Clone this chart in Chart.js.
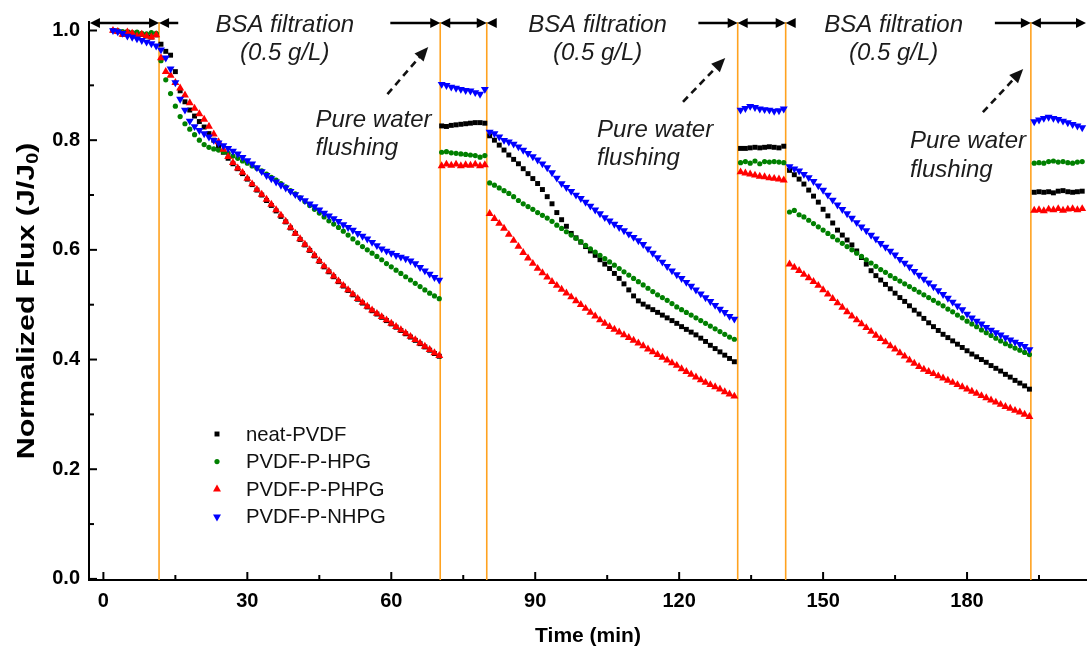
<!DOCTYPE html>
<html>
<head>
<meta charset="utf-8">
<title>Normalized flux during BSA filtration cycles</title>
<script src="https://cdn.jsdelivr.net/npm/chart.js@4.4.1/dist/chart.umd.min.js"></script>
<style>
  html, body { margin: 0; padding: 0; background: #ffffff; }
  #wrap { width: 1087px; height: 654px; }
</style>
</head>
<body>
<div id="wrap"><canvas id="flux" width="1087" height="654"></canvas></div>
<script>
// Sampling times (min): initial water, BSA 1, water 1, BSA 2, water 2, BSA 3, water 3
const timeMin = [
  2,3,4,5,6,7,8,9,10,11,
  12,13,14,15,16,17,18,19,20,21,22,23,24,25,26,27,28,29,30,31,32,33,34,35,36,37,38,39,40,41,
  42,43,44,45,46,47,48,49,50,51,52,53,54,55,56,57,58,59,60,61,62,63,64,65,66,67,68,69,70,
  70.5,71.5,72.5,73.5,74.5,75.5,76.5,77.5,78.5,79.5,
  80.5,81.5,82.5,83.5,84.5,85.5,86.5,87.5,88.5,89.5,90.5,91.5,92.5,93.5,94.5,95.5,96.5,97.5,98.5,99.5,
  100.5,101.5,102.5,103.5,104.5,105.5,106.5,107.5,108.5,109.5,110.5,111.5,112.5,113.5,114.5,115.5,116.5,117.5,118.5,119.5,
  120.5,121.5,122.5,123.5,124.5,125.5,126.5,127.5,128.5,129.5,130.5,131.5,
  132.8,133.8,134.8,135.8,136.8,137.8,138.8,139.8,140.8,141.8,
  143,144,145,146,147,148,149,150,151,152,153,154,155,156,157,158,159,160,161,162,
  163,164,165,166,167,168,169,170,171,172,173,174,175,176,177,178,179,180,181,182,
  183,184,185,186,187,188,189,190,191,192,193,
  194,195,196,197,198,199,200,201,202,203,204
];

const neatPVDF = [
  1.000,0.998,0.993,0.997,0.995,0.990,0.993,0.990,0.988,0.992,
  0.975,0.962,0.955,0.925,0.890,0.870,0.855,0.844,0.834,0.824,
  0.812,0.800,0.789,0.778,0.767,0.757,0.748,0.739,0.729,0.719,
  0.709,0.700,0.690,0.681,0.671,0.661,0.651,0.640,0.630,0.619,
  0.609,0.599,0.589,0.579,0.569,0.560,0.551,0.542,0.534,0.526,
  0.518,0.510,0.503,0.496,0.489,0.483,0.477,0.471,0.465,0.459,
  0.453,0.447,0.441,0.435,0.429,0.423,0.417,0.411,0.406,
  0.826,0.825,0.827,0.828,0.829,0.830,0.831,0.832,0.832,0.831,
  0.808,0.800,0.791,0.782,0.773,0.765,0.757,0.748,0.739,0.730,
  0.721,0.710,0.697,0.684,0.668,0.655,0.643,0.630,0.622,0.614,
  0.606,0.598,0.590,0.582,0.574,0.566,0.557,0.548,0.538,0.527,
  0.516,0.507,0.501,0.496,0.491,0.486,0.481,0.476,0.471,0.466,
  0.460,0.455,0.450,0.445,0.439,0.433,0.426,0.420,0.414,0.408,
  0.402,0.396,
  0.785,0.785,0.786,0.787,0.786,0.787,0.788,0.787,0.786,0.789,
  0.745,0.737,0.729,0.720,0.709,0.698,0.687,0.674,0.662,0.649,
  0.636,0.627,0.618,0.609,0.598,0.586,0.574,0.562,0.553,0.545,
  0.537,0.529,0.521,0.513,0.506,0.498,0.490,0.483,0.475,0.467,
  0.460,0.453,0.446,0.440,0.434,0.428,0.422,0.416,0.410,0.405,
  0.400,0.395,0.389,0.384,0.379,0.373,0.368,0.362,0.357,0.352,
  0.346,
  0.705,0.706,0.705,0.706,0.704,0.707,0.708,0.706,0.705,0.706,0.707
];

const pvdfPHPG = [
  1.000,1.000,0.998,0.997,0.996,0.997,0.995,0.994,0.996,0.995,
  0.945,0.910,0.885,0.862,0.843,0.830,0.820,0.810,0.800,0.792,
  0.787,0.784,0.782,0.779,0.776,0.771,0.767,0.762,0.758,0.753,
  0.749,0.744,0.738,0.732,0.727,0.721,0.715,0.708,0.702,0.695,
  0.688,0.681,0.674,0.667,0.660,0.653,0.647,0.641,0.634,0.627,
  0.620,0.613,0.606,0.600,0.594,0.588,0.582,0.575,0.569,0.563,
  0.557,0.551,0.545,0.539,0.533,0.527,0.521,0.516,0.511,
  0.778,0.779,0.777,0.776,0.775,0.774,0.773,0.772,0.769,0.772,
  0.722,0.718,0.713,0.708,0.703,0.697,0.690,0.684,0.679,0.674,
  0.668,0.663,0.658,0.652,0.645,0.639,0.633,0.627,0.621,0.615,
  0.608,0.602,0.596,0.590,0.584,0.578,0.572,0.566,0.560,0.554,
  0.548,0.542,0.536,0.530,0.524,0.518,0.513,0.508,0.502,0.496,
  0.491,0.486,0.481,0.476,0.471,0.466,0.461,0.456,0.451,0.446,
  0.441,0.437,
  0.759,0.761,0.758,0.762,0.757,0.761,0.760,0.761,0.760,0.759,
  0.669,0.672,0.664,0.660,0.654,0.648,0.642,0.636,0.630,0.624,
  0.618,0.612,0.606,0.600,0.594,0.588,0.582,0.576,0.570,0.564,
  0.559,0.553,0.548,0.543,0.538,0.533,0.528,0.523,0.518,0.513,
  0.508,0.503,0.498,0.492,0.487,0.481,0.476,0.470,0.465,0.460,
  0.454,0.449,0.444,0.439,0.434,0.429,0.425,0.421,0.417,0.413,
  0.409,
  0.758,0.759,0.758,0.761,0.762,0.760,0.761,0.759,0.758,0.760,0.761
];

const pvdfPPHPG = [
  1.000,0.998,0.993,0.997,0.995,0.990,0.993,0.990,0.988,0.992,
  0.950,0.925,0.918,0.905,0.895,0.882,0.868,0.858,0.848,0.838,
  0.825,0.811,0.797,0.783,0.770,0.759,0.749,0.741,0.730,0.720,
  0.710,0.701,0.692,0.683,0.673,0.663,0.652,0.641,0.630,0.620,
  0.610,0.600,0.590,0.580,0.570,0.561,0.552,0.543,0.535,0.527,
  0.519,0.511,0.504,0.497,0.490,0.484,0.478,0.472,0.466,0.460,
  0.454,0.448,0.442,0.436,0.430,0.424,0.418,0.412,0.407,
  0.753,0.756,0.754,0.756,0.753,0.755,0.754,0.756,0.753,0.755,
  0.666,0.657,0.648,0.639,0.628,0.617,0.606,0.595,0.585,0.575,
  0.566,0.558,0.550,0.542,0.535,0.528,0.521,0.514,0.507,0.500,
  0.493,0.486,0.479,0.472,0.466,0.460,0.455,0.450,0.445,0.440,
  0.435,0.430,0.425,0.419,0.414,0.409,0.404,0.399,0.394,0.389,
  0.383,0.378,0.373,0.368,0.363,0.358,0.354,0.350,0.346,0.341,
  0.337,0.333,
  0.742,0.740,0.738,0.736,0.734,0.733,0.731,0.730,0.729,0.727,
  0.574,0.568,0.562,0.555,0.549,0.542,0.535,0.527,0.519,0.511,
  0.503,0.495,0.487,0.479,0.472,0.465,0.458,0.451,0.444,0.438,
  0.432,0.425,0.419,0.412,0.406,0.399,0.393,0.387,0.382,0.378,
  0.374,0.370,0.366,0.362,0.358,0.354,0.350,0.346,0.342,0.338,
  0.334,0.330,0.326,0.322,0.318,0.314,0.311,0.307,0.304,0.300,
  0.296,
  0.672,0.673,0.671,0.674,0.673,0.675,0.672,0.674,0.675,0.673,0.675
];

const pvdfPNHPG = [
  1.000,0.998,0.995,0.990,0.988,0.985,0.982,0.979,0.976,0.972,
  0.965,0.950,0.930,0.905,0.875,0.855,0.835,0.825,0.818,0.812,
  0.806,0.800,0.795,0.790,0.785,0.780,0.775,0.769,0.763,0.757,
  0.750,0.743,0.736,0.730,0.724,0.718,0.713,0.707,0.701,0.695,
  0.690,0.684,0.679,0.673,0.667,0.662,0.657,0.652,0.646,0.641,
  0.636,0.630,0.625,0.620,0.614,0.608,0.602,0.598,0.594,0.590,
  0.587,0.584,0.580,0.575,0.568,0.562,0.556,0.550,0.545,
  0.902,0.900,0.897,0.895,0.893,0.891,0.890,0.887,0.884,0.893,
  0.815,0.812,0.806,0.800,0.797,0.793,0.788,0.782,0.776,0.770,
  0.764,0.757,0.750,0.741,0.731,0.721,0.714,0.707,0.700,0.694,
  0.687,0.680,0.673,0.666,0.659,0.653,0.647,0.641,0.635,0.629,
  0.623,0.617,0.610,0.602,0.594,0.586,0.578,0.570,0.562,0.555,
  0.548,0.541,0.534,0.527,0.520,0.513,0.506,0.499,0.492,0.486,
  0.479,0.474,
  0.855,0.858,0.862,0.860,0.857,0.856,0.855,0.853,0.854,0.857,
  0.752,0.748,0.744,0.738,0.732,0.725,0.717,0.709,0.700,0.691,
  0.682,0.674,0.666,0.658,0.650,0.642,0.635,0.627,0.620,0.612,
  0.605,0.598,0.591,0.583,0.576,0.569,0.561,0.554,0.547,0.540,
  0.533,0.526,0.519,0.512,0.505,0.498,0.491,0.483,0.476,0.470,
  0.465,0.459,0.454,0.449,0.445,0.440,0.436,0.432,0.428,0.424,
  0.418,
  0.834,0.837,0.840,0.842,0.840,0.838,0.835,0.832,0.829,0.826,0.823
];

const seriesNames = ['neat-PVDF', 'PVDF-P-HPG', 'PVDF-P-PHPG', 'PVDF-P-NHPG'];
const xTickValues = [0, 30, 60, 90, 120, 150, 180];
const xMinorTicks = [15, 45, 75, 105, 135, 165, 195];
const yTickValues = [0, 0.2, 0.4, 0.6, 0.8, 1.0];
const yMinorTicks = [0.1, 0.3, 0.5, 0.7, 0.9];
// switch-over times between water flushing and BSA filtration (min)
const phaseBounds = [11.6, 70.2, 79.9, 132.2, 142.2, 193.3];

const FONT = '"Liberation Sans", Arial, Helvetica, sans-serif';

const styles = [
  { color: '#000000', shape: 'rect', r: 3.5, rot: 0, order: 4 },
  { color: '#008000', shape: 'circle', r: 2.6, rot: 0, order: 3 },
  { color: '#ff0000', shape: 'triangle', r: 4.6, rot: 0, order: 2 },
  { color: '#0000ff', shape: 'triangle', r: 4.6, rot: 180, order: 1 }
];
const seriesValues = [neatPVDF, pvdfPHPG, pvdfPPHPG, pvdfPNHPG];

const datasets = seriesValues.map((vals, k) => ({
  label: seriesNames[k],
  data: timeMin.map((t, i) => ({ x: t, y: vals[i] })),
  showLine: false,
  pointStyle: styles[k].shape,
  pointRotation: styles[k].rot,
  pointRadius: styles[k].r,
  pointHoverRadius: styles[k].r,
  pointBackgroundColor: styles[k].color,
  pointBorderColor: styles[k].color,
  pointBorderWidth: 0,
  order: styles[k].order
}));

// marker shapes for the legend, same geometry as the chart's points
function marker(ctx, st, x, y) {
  ctx.fillStyle = st.color;
  ctx.beginPath();
  if (st.shape === 'rect') {
    const s = Math.SQRT1_2 * st.r;
    ctx.rect(x - s, y - s, 2 * s, 2 * s);
  } else if (st.shape === 'circle') {
    ctx.arc(x, y, st.r, 0, Math.PI * 2);
  } else {
    let rad = st.rot * Math.PI / 180;
    for (let i = 0; i < 3; i++) {
      const px = x + Math.sin(rad) * st.r, py = y - Math.cos(rad) * st.r;
      i === 0 ? ctx.moveTo(px, py) : ctx.lineTo(px, py);
      rad += 2 * Math.PI / 3;
    }
    ctx.closePath();
  }
  ctx.fill();
}

function head(ctx, tx, ty, ang, len, half) {
  ctx.beginPath();
  ctx.moveTo(tx, ty);
  ctx.lineTo(tx - len * Math.cos(ang) + half * Math.sin(ang), ty - len * Math.sin(ang) - half * Math.cos(ang));
  ctx.lineTo(tx - len * Math.cos(ang) - half * Math.sin(ang), ty - len * Math.sin(ang) + half * Math.cos(ang));
  ctx.closePath();
  ctx.fill();
}

// phase indicator arrows along the top edge (x in min)
const arrowLevel = 1.0137;
const topArrows = [
  { from: -2.8, to: 11.6, l: true, r: true },
  { from: 11.6, to: 15.6, l: true, r: false },
  { from: 59.8, to: 70.2, l: false, r: true },
  { from: 70.2, to: 79.9, l: true, r: true },
  { from: 79.9, to: 81.8, l: true, r: false },
  { from: 124.0, to: 132.2, l: false, r: true },
  { from: 132.2, to: 142.2, l: true, r: true },
  { from: 142.2, to: 143.6, l: true, r: false },
  { from: 185.8, to: 193.3, l: false, r: true },
  { from: 193.3, to: 204.9, l: true, r: true }
];
const bsaLabels = [
  { x: 37.8, y1: 0.997, y2: 0.946 },
  { x: 103.0, y1: 0.997, y2: 0.946 },
  { x: 164.7, y1: 0.997, y2: 0.946 }
];
const flushLabels = [
  { x: 44.2, y1: 0.824, y2: 0.773 },
  { x: 102.9, y1: 0.806, y2: 0.755 },
  { x: 168.1, y1: 0.785, y2: 0.733 }
];
const flushArrows = [
  { x0: 59.2, y0: 0.884, x1: 67.7, y1: 0.970 },
  { x0: 120.8, y0: 0.870, x1: 129.6, y1: 0.950 },
  { x0: 183.3, y0: 0.851, x1: 191.7, y1: 0.930 }
];

const decorations = {
  id: 'decorations',
  beforeDatasetsDraw(chart) {
    const { ctx, chartArea: a, scales: { x } } = chart;
    ctx.save();
    ctx.strokeStyle = '#ffa21f';
    ctx.lineWidth = 1.6;
    phaseBounds.forEach(t => {
      const px = x.getPixelForValue(t);
      ctx.beginPath(); ctx.moveTo(px, a.top); ctx.lineTo(px, a.bottom); ctx.stroke();
    });
    ctx.restore();
  },
  afterDraw(chart) {
    const { ctx, chartArea: a, scales: { x, y } } = chart;
    ctx.save();

    // inward tick marks
    ctx.strokeStyle = '#000'; ctx.lineWidth = 2;
    const tick = (x0, y0, x1, y1) => { ctx.beginPath(); ctx.moveTo(x0, y0); ctx.lineTo(x1, y1); ctx.stroke(); };
    xTickValues.forEach(v => { const p = x.getPixelForValue(v); tick(p, a.bottom, p, a.bottom - 8); });
    xMinorTicks.forEach(v => { const p = x.getPixelForValue(v); tick(p, a.bottom, p, a.bottom - 5); });
    yTickValues.forEach(v => { const p = y.getPixelForValue(v); tick(a.left, p, a.left + 8, p); });
    yMinorTicks.forEach(v => { const p = y.getPixelForValue(v); tick(a.left, p, a.left + 5, p); });

    // phase arrows
    const ay = y.getPixelForValue(arrowLevel);
    ctx.fillStyle = '#000'; ctx.lineWidth = 2.5;
    topArrows.forEach(s => {
      const p0 = x.getPixelForValue(s.from), p1 = Math.min(x.getPixelForValue(s.to), a.right - 1);
      ctx.beginPath(); ctx.moveTo(p0 + (s.l ? 4 : 0), ay); ctx.lineTo(p1 - (s.r ? 4 : 0), ay); ctx.stroke();
      if (s.l) head(ctx, p0, ay, Math.PI, 10, 5);
      if (s.r) head(ctx, p1, ay, 0, 10, 5);
    });

    // phase captions
    ctx.fillStyle = '#1c1c1c';
    ctx.font = 'italic 24px ' + FONT;
    ctx.textBaseline = 'alphabetic';
    ctx.textAlign = 'center';
    bsaLabels.forEach(l => {
      const px = x.getPixelForValue(l.x);
      ctx.fillText('BSA filtration', px, y.getPixelForValue(l.y1));
      ctx.fillText('(0.5 g/L)', px, y.getPixelForValue(l.y2));
    });
    ctx.textAlign = 'left';
    flushLabels.forEach(l => {
      const px = x.getPixelForValue(l.x);
      ctx.fillText('Pure water', px, y.getPixelForValue(l.y1));
      ctx.fillText('flushing', px, y.getPixelForValue(l.y2));
    });

    // dashed pointers
    ctx.strokeStyle = '#111'; ctx.fillStyle = '#111'; ctx.lineWidth = 2.6;
    flushArrows.forEach(f => {
      const x0 = x.getPixelForValue(f.x0), y0 = y.getPixelForValue(f.y0);
      const x1 = x.getPixelForValue(f.x1), y1 = y.getPixelForValue(f.y1);
      const ang = Math.atan2(y1 - y0, x1 - x0);
      ctx.setLineDash([7, 5]);
      ctx.beginPath(); ctx.moveTo(x0, y0);
      ctx.lineTo(x1 - 11 * Math.cos(ang), y1 - 11 * Math.sin(ang)); ctx.stroke();
      ctx.setLineDash([]);
      head(ctx, x1, y1, ang, 14, 6);
    });

    // legend
    const lx = a.left + 128, ly = a.top + 412;
    ctx.font = '20.3px ' + FONT;
    ctx.textBaseline = 'middle';
    ctx.textAlign = 'left';
    seriesNames.forEach((n, i) => {
      const yy = ly + i * 27.6;
      marker(ctx, styles[i], lx, yy);
      ctx.fillStyle = '#111';
      ctx.fillText(n, lx + 29, yy + 1);
    });

    // y-axis title with subscript, set along the axis
    ctx.translate(34, (a.top + a.bottom) / 2);
    ctx.rotate(-Math.PI / 2);
    ctx.scale(1.24, 1);
    ctx.fillStyle = '#000';
    ctx.textBaseline = 'alphabetic';
    const mainF = 'bold 24.5px ' + FONT, subF = 'bold 16px ' + FONT;
    ctx.font = mainF; const w1 = ctx.measureText('Normalized Flux (J/J').width;
    ctx.font = subF; const w2 = ctx.measureText('0').width;
    ctx.font = mainF; const w3 = ctx.measureText(')').width;
    let sx = -(w1 + w2 + w3) / 2;
    ctx.fillText('Normalized Flux (J/J', sx, 0); sx += w1;
    ctx.font = subF; ctx.fillText('0', sx, 4); sx += w2;
    ctx.font = mainF; ctx.fillText(')', sx, 0);

    ctx.restore();
  }
};

new Chart(document.getElementById('flux'), {
  type: 'scatter',
  data: { datasets },
  options: {
    responsive: false,
    devicePixelRatio: 1,
    animation: false,
    layout: { autoPadding: false, padding: { top: 22, right: 0, bottom: 0, left: 0 } },
    plugins: { legend: { display: false }, tooltip: { enabled: false } },
    scales: {
      x: {
        type: 'linear', position: 'bottom', min: -3, max: 205,
        afterBuildTicks: s => { s.ticks = xTickValues.map(v => ({ value: v })); },
        afterFit: s => { s.height = 74; s.paddingLeft = 0; s.paddingRight = 0; },
        grid: { display: false, drawTicks: false },
        border: { display: true, color: '#000', width: 2 },
        ticks: { autoSkip: false, maxRotation: 0, padding: 9, color: '#000',
                 font: { family: FONT, size: 20, weight: 'bold' }, callback: v => String(v) },
        title: { display: true, text: 'Time (min)', color: '#000',
                 font: { family: FONT, size: 21, weight: 'bold' }, padding: { top: 0, bottom: 5 } }
      },
      y: {
        type: 'linear', position: 'left', min: -0.002, max: 1.0155,
        afterBuildTicks: s => { s.ticks = yTickValues.map(v => ({ value: v })); },
        afterFit: s => { s.width = 89; s.paddingTop = 0; s.paddingBottom = 0; },
        grid: { display: false, drawTicks: false },
        border: { display: true, color: '#000', width: 2 },
        ticks: { padding: 9, color: '#000', font: { family: FONT, size: 20, weight: 'bold' },
                 callback: v => Number(v).toFixed(1) },
        title: { display: false }
      }
    }
  },
  plugins: [decorations]
});
</script>
</body>
</html>
